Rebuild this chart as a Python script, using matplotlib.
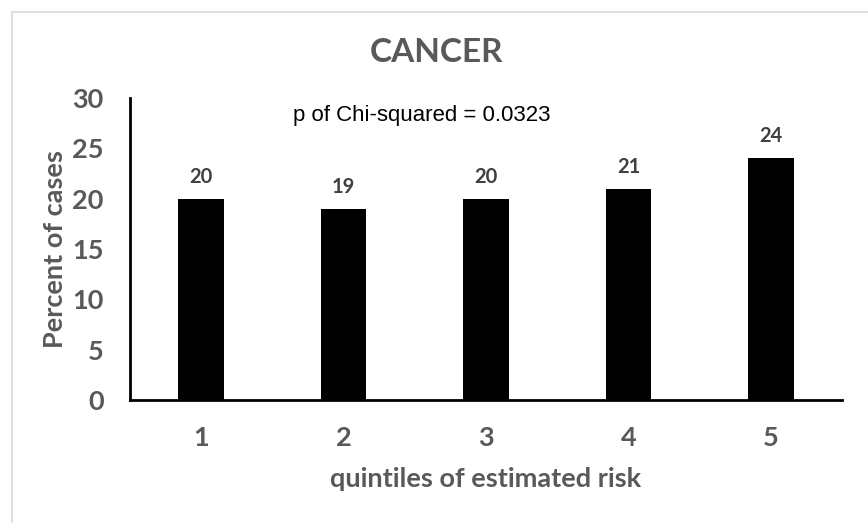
import matplotlib.pyplot as plt
from matplotlib.patches import Rectangle

# --- Data ---
quintiles = ["1", "2", "3", "4", "5"]
percent_cases = [20, 19, 20, 21, 24]
title = "CANCER"
note = "p of Chi-squared = 0.0323"

gray = "#595959"
plt.rcParams['font.family'] = ['Lato', 'DejaVu Sans']

fig = plt.figure(figsize=(8.68, 5.23), dpi=100)

# light frame around the chart area (top/left visible only)
fig.patches.append(Rectangle((12 / 868, -0.05), 1.2, (523 - 12) / 523 + 0.05,
                             transform=fig.transFigure, fill=False,
                             edgecolor="#d9d9d9", linewidth=1.2))

ax = fig.add_axes([130 / 868, 123 / 523, 712 / 868, 302 / 523])
x = range(len(quintiles))
bars = ax.bar(x, percent_cases, width=0.32, color="black")

ax.set_xlim(-0.5, len(quintiles) - 0.5)
ax.set_ylim(0, 30)
ax.set_yticks(range(0, 31, 5))
ax.set_xticks(list(x))
ax.set_xticklabels(quintiles)

for s in ["top", "right"]:
    ax.spines[s].set_visible(False)
for s in ["left", "bottom"]:
    ax.spines[s].set_linewidth(2)
    ax.spines[s].set_color("black")

ax.tick_params(axis="both", length=0, labelsize=19.5, labelcolor=gray)
ax.tick_params(axis="y", pad=19)
ax.tick_params(axis="x", pad=19)
for lbl in ax.get_xticklabels() + ax.get_yticklabels():
    lbl.set_fontweight("bold")

for xi, v in zip(x, percent_cases):
    ax.text(xi, v + 1.2, str(v), ha="center", va="bottom",
            fontsize=14.5, fontweight="bold", color="#404040")

ax.set_ylabel("Percent of cases", fontsize=19.5, fontweight="bold", color=gray, labelpad=4)
ax.set_xlabel("quintiles of estimated risk", fontsize=19.5, fontweight="bold", color=gray, labelpad=12)

fig.text(422 / 868, 1 - 115 / 523, note, ha="center", va="center",
         fontsize=16, color="black", family=["Liberation Sans", "DejaVu Sans"])
fig.text(436 / 868, 1 - 52 / 523, title, ha="center", va="center",
         fontsize=24, fontweight="bold", color=gray)

fig.savefig("out.png", dpi=100)
